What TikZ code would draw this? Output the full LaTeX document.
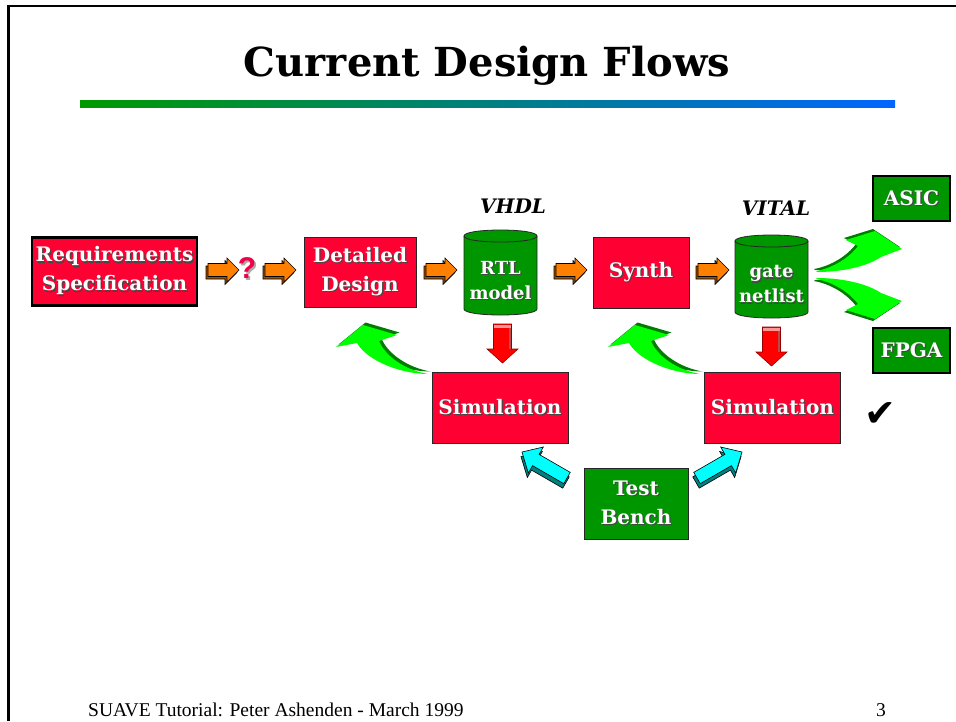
\documentclass[tikz,border=0pt]{standalone}
\usepackage{fontspec}
\setmainfont{DejaVu Serif}
\newfontfamily\footfont{Liberation Serif}
\newfontfamily\qfont{Liberation Sans}
\newfontfamily\symfont{DejaVu Sans}
\usetikzlibrary{calc}
\definecolor{boxred}{RGB}{255,0,51}
\definecolor{boxgreen}{RGB}{0,150,0}
\definecolor{arrlime}{RGB}{0,255,0}
\definecolor{arrdkgreen}{RGB}{0,125,0}
\definecolor{arrorange}{RGB}{255,128,0}
\definecolor{arrbrown}{RGB}{160,80,0}
\definecolor{arrcyan}{RGB}{0,255,255}
\definecolor{arrteal}{RGB}{0,128,128}
\definecolor{arrred}{RGB}{255,0,0}
\definecolor{arrdkred}{RGB}{150,0,0}
\definecolor{arrpink}{RGB}{255,150,150}
\definecolor{shadowgray}{RGB}{70,70,70}
\definecolor{qshadow}{RGB}{170,170,170}
\definecolor{qred}{RGB}{240,0,70}
\definecolor{barleft}{RGB}{0,153,0}
\definecolor{barright}{RGB}{0,102,255}
\newcommand{\shtx}[1]{\leavevmode\rlap{\kern1.2pt\raisebox{-1.2pt}{\textcolor{shadowgray}{#1}}}#1}
\newcommand{\qshtx}[1]{\leavevmode\rlap{\kern1.8pt\raisebox{-1.8pt}{\textcolor{qshadow}{#1}}}#1}
\tikzset{
  txtbox/.style={rectangle, inner sep=0pt, text=white, align=center,
    font=\bfseries\fontsize{20}{29}\selectfont},
  redbox/.style={txtbox, fill=boxred, draw=black!85, line width=0.8pt},
  greenbox/.style={txtbox, fill=boxgreen, draw=black!85, line width=0.8pt},
  thickborder/.style={line width=2.4pt, draw=black},
  cylbody/.style={fill=boxgreen, draw=black!85, line width=0.8pt},
  cyltext/.style={inner sep=0pt, text=white, align=center,
    font=\bfseries\fontsize{18}{25}\selectfont},
  langlabel/.style={inner sep=0pt, anchor=base,
    font=\bfseries\itshape\fontsize{20}{24}\selectfont},
  orangearrow/.pic={
    \filldraw[fill=arrbrown, draw=black, line width=0.6pt, shift={(-2,2.5)}]
      (-15,-6.5) -- (4,-6.5) -- (4,-12) -- (16,0) -- (4,12) -- (4,6.5) -- (-15,6.5) -- cycle;
    \filldraw[fill=arrorange, draw=black, line width=0.6pt]
      (-15,-6.5) -- (4,-6.5) -- (4,-12) -- (16,0) -- (4,12) -- (4,6.5) -- (-15,6.5) -- cycle;
  },
  redarrow/.pic={
    \filldraw[fill=arrred, draw=arrdkred, line width=0.6pt]
      (-9,0) -- (9,0) -- (9,25) -- (15.5,25) -- (0,39) -- (-15.5,25) -- (-9,25) -- cycle;
    \fill[arrpink] (-8.6,0.5) rectangle (8.6,3.5);
    \fill[arrdkred!70] (6.5,3.5) rectangle (8.6,24.5);
  },
  greenback/.pic={
    \fill[arrdkgreen, shift={(2.5,-2.5)}]
      (0,0) .. controls (-25,0) and (-60,-12) .. (-71,-31) -- (-92,-27) -- (-65,-49)
      -- (-31,-39) -- (-49,-33) .. controls (-43,-18) and (-23,-4) .. (0,0) -- cycle;
    \fill[arrlime]
      (0,0) .. controls (-25,0) and (-60,-12) .. (-71,-31) -- (-92,-27) -- (-65,-49)
      -- (-31,-39) -- (-49,-33) .. controls (-43,-18) and (-23,-4) .. (0,0) -- cycle;
  },
  greenfork/.pic={
    \fill[arrdkgreen, shift={(-2,-2)}]
      (0,0) .. controls (17,-3) and (33,-13) .. (42,-25) -- (30,-31) -- (59,-40)
      -- (86,-22) -- (65,-14) .. controls (50,-4) and (25,1) .. (1,1) -- cycle;
    \fill[arrlime]
      (0,0) .. controls (17,-3) and (33,-13) .. (42,-25) -- (30,-31) -- (59,-40)
      -- (86,-22) -- (65,-14) .. controls (50,-4) and (25,1) .. (1,1) -- cycle;
  },
  cyanarrow/.pic={
    \begin{scope}[shift={(-1,4.5)}, rotate=#1]
      \filldraw[fill=arrteal, draw=black, line width=0.6pt]
        (0,-6.5) -- (36,-6.5) -- (36,-15) -- (52,0) -- (36,15) -- (36,6.5) -- (0,6.5) -- cycle;
    \end{scope}
    \begin{scope}[rotate=#1]
      \filldraw[fill=arrcyan, draw=black, line width=0.6pt]
        (0,-6.5) -- (36,-6.5) -- (36,-15) -- (52,0) -- (36,15) -- (36,6.5) -- (0,6.5) -- cycle;
    \end{scope}
  }
}
\begin{document}
\begin{tikzpicture}[x=1pt, y=-1pt]
\useasboundingbox (0,0) rectangle (956,721);
\fill[white] (0,0) rectangle (956,721);
% page frame
\draw[line width=2.5pt] (8.3,721) -- (8.3,6) -- (956,6);
% title and bar
\node[inner sep=0pt, anchor=base, font=\bfseries\fontsize{40}{48}\selectfont] (title) at (487,76) {Current Design Flows};
\shade[left color=barleft, right color=barright] (80,100) rectangle (895,107);

% boxes
\node[redbox, thickborder, minimum width=165pt, minimum height=68pt] (req) at (114.5,271.5) {\shtx{Requirements}\\\shtx{Specification}};
\node[redbox, minimum width=112pt, minimum height=70pt] (det) at (360,272) {\shtx{Detailed}\\\shtx{Design}};
\node[redbox, minimum width=96pt, minimum height=71pt] (syn) at (641,272.5) {\shtx{Synth}};
\node[greenbox, thickborder, minimum width=77pt, minimum height=45pt] (asic) at (911.5,198.5) {\shtx{ASIC}};
\node[greenbox, thickborder, minimum width=77pt, minimum height=45pt] (fpga) at (911.5,350.5) {\shtx{FPGA}};
\node[redbox, minimum width=136pt, minimum height=71pt] (sim1) at (500,407.5) {\shtx{Simulation}};
\node[redbox, minimum width=136pt, minimum height=71pt] (sim2) at (772.5,407.5) {\shtx{Simulation}};
\node[greenbox, minimum width=104pt, minimum height=71pt] (tb) at (636,503.5) {\shtx{Test}\\\shtx{Bench}};

% cylinders
\path[cylbody] (464,236) -- (464,309) .. controls (464,317) and (537,317) .. (537,309)
  -- (537,236) .. controls (537,228) and (464,228) .. (464,236) -- cycle;
\draw[black!85, line width=0.8pt] (464,236) .. controls (464,244) and (537,244) .. (537,236);
\node[cyltext] (rtl) at (500.5,281) {\shtx{RTL}\\\shtx{model}};
\path[cylbody] (735,241) -- (735,312) .. controls (735,320) and (808,320) .. (808,312)
  -- (808,241) .. controls (808,233) and (735,233) .. (735,241) -- cycle;
\draw[black!85, line width=0.8pt] (735,241) .. controls (735,249) and (808,249) .. (808,241);
\node[cyltext] (gate) at (771.5,285) {\shtx{gate}\\\shtx{netlist}};

\node[langlabel] (vhdl) at (513,213) {VHDL};
\node[langlabel] (vital) at (776,215) {VITAL};

% orange flow arrows and question mark
\pic at (223,270) {orangearrow};
\node[inner sep=0pt, text=qred, font=\qfont\bfseries\fontsize{30}{30}\selectfont] (q) at (247,269) {\qshtx{?}};
\pic at (280,270) {orangearrow};
\pic at (441,270) {orangearrow};
\pic at (571,270) {orangearrow};
\pic at (713,270) {orangearrow};

% red down arrows
\pic at (502.5,324) {redarrow};
\pic at (771.5,327) {redarrow};

% green curved arrows
\pic at (428,374) {greenback};
\pic at (700,374) {greenback};
\pic at (816,271) {greenfork};
\pic[yscale=-1] at (816,279) {greenfork};

% cyan arrows from the test bench
\pic at (567,478) {cyanarrow=150};
\pic at (697,478) {cyanarrow=30};

% check mark
\node[inner sep=0pt, font=\symfont\fontsize{38}{38}\selectfont] (chk) at (880,415) {✔};

% footer
\node[inner sep=0pt, anchor=base west, font=\footfont\fontsize{19.5}{22}\selectfont] (foot) at (88,716) {SUAVE Tutorial: Peter Ashenden - March 1999};
\node[inner sep=0pt, anchor=base, font=\footfont\fontsize{19.5}{22}\selectfont] (pg) at (881,716) {3};
\end{tikzpicture}
\end{document}
